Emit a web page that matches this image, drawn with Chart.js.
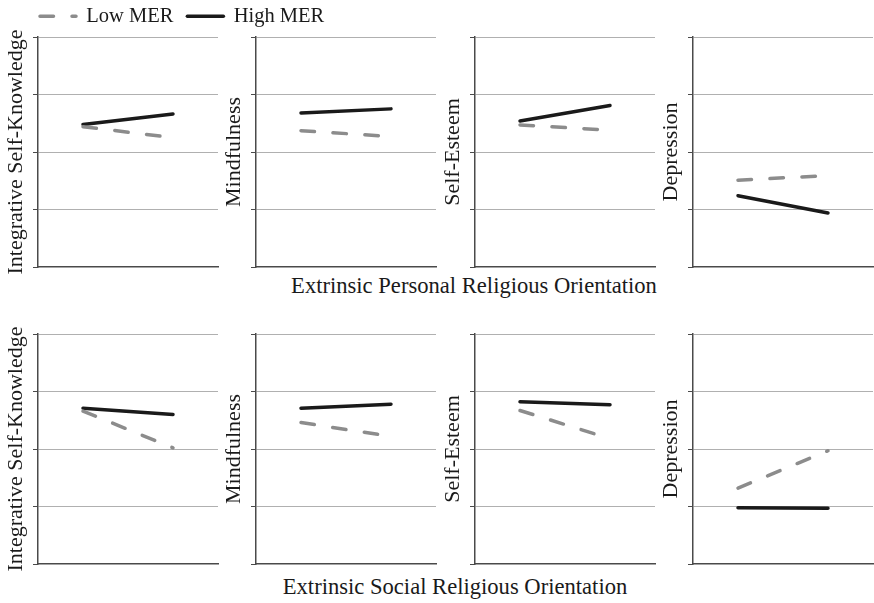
<!DOCTYPE html>
<html lang="en">
<head>
    <meta charset="UTF-8">
    <title>Extrinsic Religious Orientation x MER</title>
    <script src="https://cdn.jsdelivr.net/npm/chart.js"></script>
    <style>
        body { margin: 0; background: #fff; }
        #wrap { position: relative; width: 874px; height: 603px; overflow: hidden; }
        canvas { position: absolute; }
        .rowTitle {
            position: absolute; width: 500px; text-align: center;
            font-family: "Liberation Serif", serif; font-size: 22.6px; line-height: 26px; color: #1a1a1a;
        }
    </style>
</head>
<body>
<div id="wrap">
    <canvas id="legend" width="420" height="100" style="left:26px; top:-8px"></canvas>
    <div class="rowTitle" id="title0" style="left:224px; top:273px"></div>
    <div class="rowTitle" id="title1" style="left:205px; top:574px"></div>
</div>

<script>
    // categories of the x axis (low / high extrinsic orientation)
    const categories = ["Low", "High"];
    const panelTitles = ["Integrative Self-Knowledge", "Mindfulness", "Self-Esteem", "Depression"];
    const rowTitles = ["Extrinsic Personal Religious Orientation", "Extrinsic Social Religious Orientation"];
    const seriesNames = ["Low MER", "High MER"];
    const yTicks = [0, 1, 2, 3, 4];

    // one [low, high] pair per panel
    const personalLowMER  = [[2.44, 2.25], [2.37, 2.27], [2.47, 2.38], [1.51, 1.59]];
    const personalHighMER = [[2.48, 2.66], [2.68, 2.75], [2.54, 2.81], [1.24, 0.94]];
    const socialLowMER    = [[2.66, 2.02], [2.46, 2.22], [2.67, 2.18], [1.32, 1.97]];
    const socialHighMER   = [[2.71, 2.60], [2.71, 2.78], [2.82, 2.77], [0.98, 0.97]];

    const rows = [
        { low: personalLowMER, high: personalHighMER, top: 37 },
        { low: socialLowMER, high: socialHighMER, top: 334 }
    ];

    Chart.defaults.font.family = '"Liberation Serif", serif';
    Chart.defaults.color = "#1a1a1a";

    const lowStyle = { borderColor: "#8c8c8c", backgroundColor: "#8c8c8c", borderWidth: 3.5,
                       borderDash: [13.5, 18.5], borderCapStyle: "round" };
    const highStyle = { borderColor: "#1a1a1a", backgroundColor: "#1a1a1a", borderWidth: 3.5,
                        borderCapStyle: "round" };

    const wrap = document.getElementById("wrap");
    // extra room above and below so the long axis title is not cut by the canvas
    const axisW = 38, plotW = 180, plotH = 230, pad = 22;

    rows.forEach((row, r) => {
        document.getElementById("title" + r).textContent = rowTitles[r];
        panelTitles.forEach((title, i) => {
            const cv = document.createElement("canvas");
            const axisX = 38 + i * 218.4;
            cv.width = axisW + plotW + 2;
            cv.height = plotH + pad * 2;
            cv.style.left = Math.round(axisX - axisW) + "px";
            cv.style.top = (row.top - pad) + "px";
            wrap.appendChild(cv);

            new Chart(cv, {
                type: "line",
                data: {
                    labels: categories,
                    datasets: [
                        { label: seriesNames[0], data: row.low[i], ...lowStyle },
                        { label: seriesNames[1], data: row.high[i], ...highStyle }
                    ]
                },
                options: {
                    responsive: false,
                    animation: false,
                    layout: { padding: { top: pad, bottom: pad, left: 0, right: 2 } },
                    elements: { point: { radius: 0 }, line: { tension: 0 } },
                    plugins: { legend: { display: false }, tooltip: { enabled: false } },
                    scales: {
                        x: {
                            offset: true,
                            ticks: { display: false },
                            grid: { display: false, drawTicks: false },
                            border: { display: true, color: "#4a4a4a", width: 1.5 }
                        },
                        y: {
                            min: yTicks[0],
                            max: yTicks[yTicks.length - 1],
                            afterBuildTicks: s => { s.ticks = yTicks.map(v => ({ value: v })); },
                            afterFit: s => { s.width = axisW; },
                            ticks: { display: false },
                            grid: {
                                color: c => c.tick && c.tick.value === 0 ? "rgba(0,0,0,0)" : "#b0b0b0",
                                tickColor: "#4a4a4a",
                                tickLength: 5,
                                lineWidth: 1
                            },
                            border: { display: true, color: "#4a4a4a", width: 1.5 },
                            title: {
                                display: true,
                                text: title,
                                font: { size: 22 },
                                padding: { top: 3.5, bottom: 0 }
                            }
                        }
                    }
                }
            });
        });
    });

    // legend only chart
    new Chart(document.getElementById("legend"), {
        type: "line",
        data: {
            labels: [],
            datasets: [
                { label: seriesNames[0], data: [], ...lowStyle },
                { label: seriesNames[1], data: [], ...highStyle }
            ]
        },
        options: {
            responsive: false,
            animation: false,
            scales: { x: { display: false }, y: { display: false } },
            plugins: {
                tooltip: { enabled: false },
                legend: {
                    align: "start",
                    labels: {
                        usePointStyle: true,
                        pointStyle: "line",
                        pointStyleWidth: 36,
                        padding: 14,
                        font: { size: 20.5 },
                        color: "#1a1a1a",
                        // point style labels lose the dash, put it back from the dataset
                        generateLabels: chart =>
                            Chart.defaults.plugins.legend.labels.generateLabels(chart).map((item, k) => ({
                                ...item,
                                lineDash: chart.data.datasets[k].borderDash || [],
                                lineCap: "round"
                            }))
                    }
                }
            }
        }
    });
</script>
</body>
</html>
